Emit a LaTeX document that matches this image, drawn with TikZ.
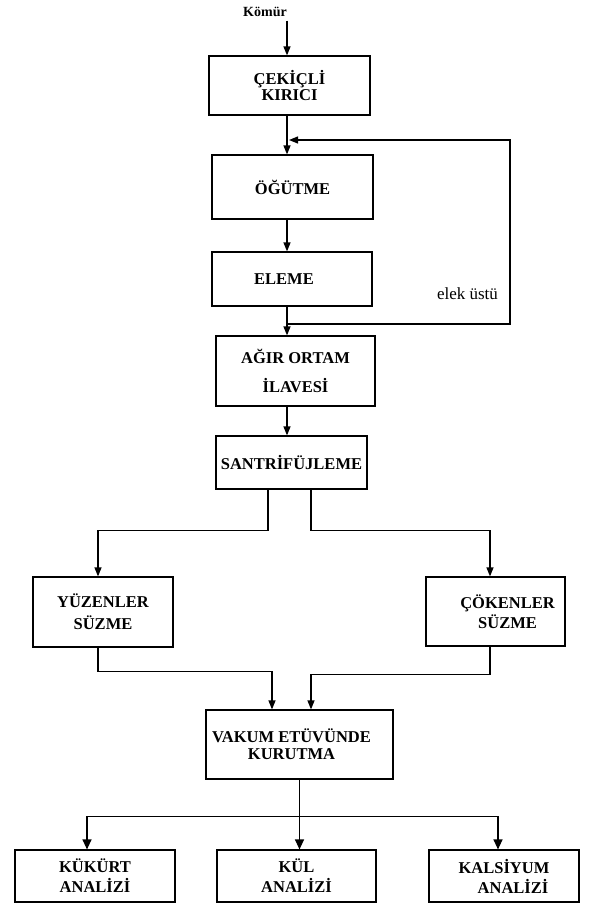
\documentclass[tikz,border=0pt]{standalone}
\usepackage{fontspec}
\setmainfont{Liberation Serif}
\usetikzlibrary{arrows.meta}

\begin{document}
\begin{tikzpicture}[x=1pt, y=-1pt, line width=1.2pt, >={Triangle[length=9pt,width=7pt]},
  block/.style={draw, rectangle, align=center, font=\bfseries\fontsize{16.5}{20}\selectfont},
  bigtip/.style={-{Triangle[length=10pt,width=9pt]}}]

\useasboundingbox (0,0) rectangle (596,903);

\node [font=\bfseries\fontsize{14}{16}\selectfont] (komur) at (265,12) {Kömür};

\node [block, minimum width=161pt, minimum height=59pt] (kirici) at (289.5,85.5) {ÇEKİÇLİ\\[-4pt]KIRICI};

\node [block, minimum width=161pt, minimum height=64pt] (ogutme) at (292.5,187) {ÖĞÜTME};

\node [block, minimum width=160pt, minimum height=54pt] (eleme) at (292,279) {ELEME\hspace*{16pt}};

\node [block, minimum width=159pt, minimum height=70pt] (agir) at (295.5,371) {AĞIR ORTAM\\[9pt]İLAVESİ};

\node [block, minimum width=151pt, minimum height=53pt] (santri) at (291.5,462.5) {SANTRİFÜJLEME};

\node [block, minimum width=140pt, minimum height=70pt] (yuzen) at (103,612) {YÜZENLER\\[2pt]SÜZME};

\node [block, minimum width=139pt, minimum height=69pt] (coken) at (495.5,611.5) {\hspace*{24pt}ÇÖKENLER\\\hspace*{24pt}SÜZME};

\node [block, minimum width=187pt, minimum height=69pt] (vakum) at (299.5,744.5) {VAKUM ETÜVÜNDE\hspace*{16pt}\\[-3pt]KURUTMA\hspace*{16pt}};

\node [block, minimum width=160pt, minimum height=52pt] (kukurt) at (95,876) {KÜKÜRT\\ANALİZİ};

\node [block, minimum width=159pt, minimum height=52pt] (kul) at (296.5,876) {KÜL\\ANALİZİ};

\node [block, minimum width=150pt, minimum height=52pt] (kalsiyum) at (504,876) {KALSİYUM\\\hspace*{18pt}ANALİZİ};

\node [font=\fontsize{17}{20}\selectfont] (elek) at (467.5,294) {elek üstü};

\coordinate (spine) at (287,0);
\coordinate (donus) at (287,324);
\coordinate (sag) at (510,140);
\coordinate (giris) at (289,140);

\draw[->] (komur.south -| spine) -- (kirici.north -| spine);
\draw[->] (kirici.south -| spine) -- (ogutme.north -| spine);
\draw[->] (ogutme.south -| spine) -- (eleme.north -| spine);
\draw[->] (eleme.south -| spine) -- (agir.north -| spine);
\draw[->] (donus) -| (sag) -- (giris);
\draw[->] (agir.south -| spine) -- (santri.north -| spine);

\draw[->] ([xshift=-23.5pt]santri.south) -- ++(0,41) -| ([xshift=-5pt]yuzen.north);
\draw[->] ([xshift=19.5pt]santri.south) -- ++(0,41) -| ([xshift=-5.5pt]coken.north);

\draw[->] ([xshift=-5pt]yuzen.south) -- ++(0,24) -| ([xshift=-27.5pt]vakum.north);
\draw[->] ([xshift=-5.5pt]coken.south) -- ++(0,28) -| ([xshift=11.5pt]vakum.north);

\draw (vakum.south) -- ++(0,37) coordinate (dal);
\draw[bigtip] (dal) -| ([xshift=-8pt]kukurt.north);
\draw[bigtip] (dal) -- (kul.north -| dal);
\draw[bigtip] (dal) -| ([xshift=-6pt]kalsiyum.north);

\end{tikzpicture}
\end{document}
